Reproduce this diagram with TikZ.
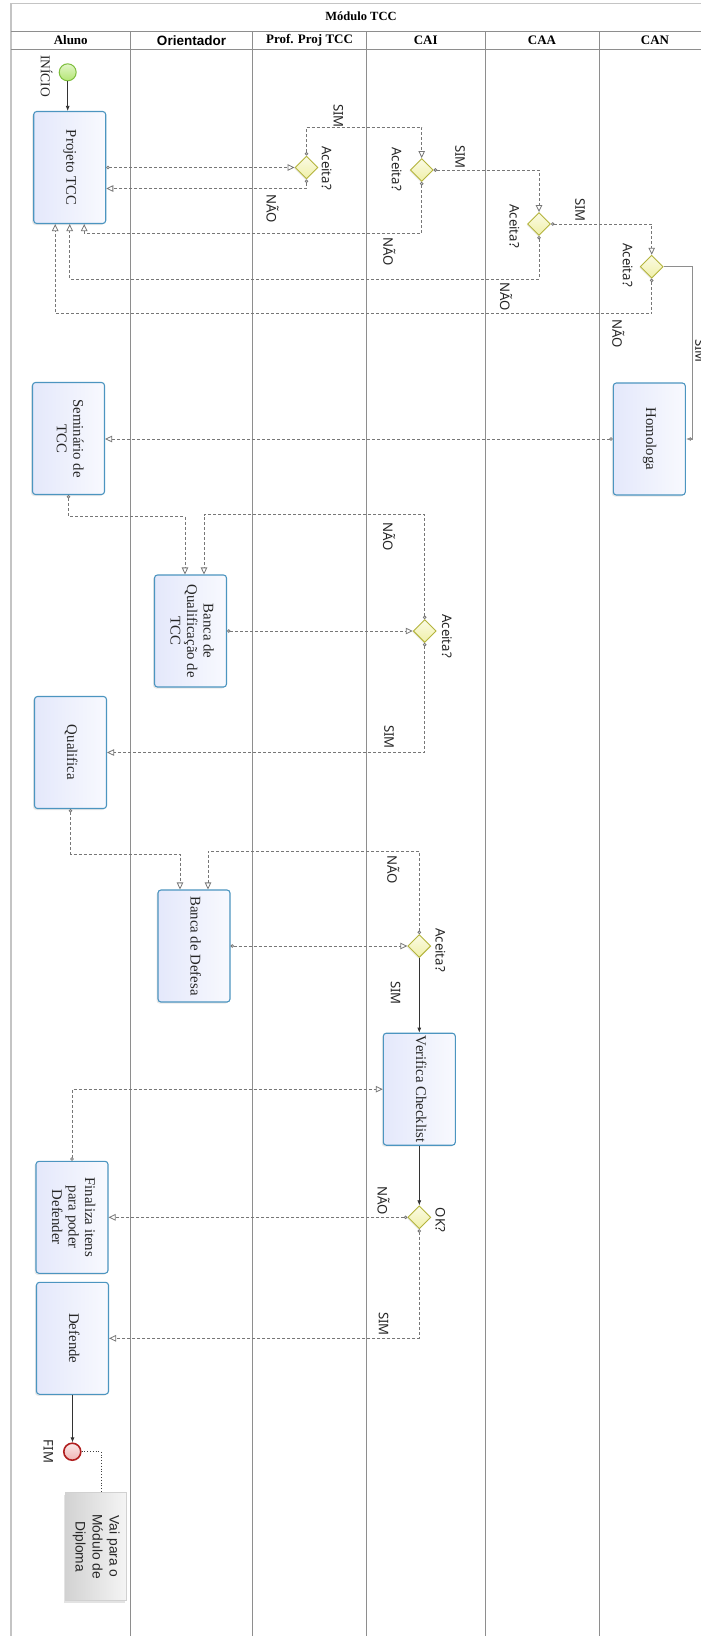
\documentclass[tikz,border=0pt]{standalone}
\usepackage{xcolor}
\usepackage{graphicx}
\usepackage{fontspec}
\setmainfont{Liberation Serif}
\newfontfamily\bpmnsans{Noto Sans}
\newfontfamily\notesans{Liberation Sans}
\usepackage{tikz}
\usetikzlibrary{arrows.meta,shapes.geometric,shadows}
\definecolor{linharaia}{HTML}{8E8E8E}
\definecolor{bordaexterna}{HTML}{C4C4C4}
\definecolor{bordatarefa}{HTML}{4C95C0}
\definecolor{fundotarefa}{HTML}{E4E8FB}
\definecolor{bordadecisao}{HTML}{B4B43C}
\definecolor{fundodecisao}{HTML}{F0F0A8}
\definecolor{bordainicio}{HTML}{7DBE3C}
\definecolor{fundoinicio}{HTML}{B4E674}
\definecolor{bordafim}{HTML}{B01E1E}
\definecolor{fundofim}{HTML}{F0B4B4}
\definecolor{linhamsg}{HTML}{777777}
\definecolor{fundonota}{HTML}{D2D2D2}
\newcommand{\vtxt}[1]{\rotatebox{-90}{\begin{tabular}{@{}c@{}}#1\end{tabular}}}

\begin{document}
\begin{tikzpicture}[x=1pt,y=-1pt,
  raia/.style={draw=linharaia, line width=0.8pt},
  cabecalho/.style={font=\bfseries\fontsize{13}{15}\selectfont},
  tarefa/.style={draw=bordatarefa, line width=1.1pt, rounded corners=3pt,
    left color=fundotarefa, right color=white!75!fundotarefa,
    minimum width=72pt, minimum height=112pt, inner sep=0pt,
    font=\fontsize{14.8}{16.5}\selectfont, text=black!85,
    drop shadow={shadow xshift=-1.5pt, shadow yshift=-1.5pt, opacity=0.18}},
  decisao/.style={diamond, draw=bordadecisao, line width=0.9pt,
    top color=white!70!fundodecisao, bottom color=fundodecisao,
    minimum width=23pt, minimum height=23pt, inner sep=0pt,
    drop shadow={shadow xshift=-1pt, shadow yshift=-1pt, opacity=0.15}},
  inicio/.style={circle, draw=bordainicio, line width=1pt,
    top color=white!60!fundoinicio, bottom color=fundoinicio,
    minimum size=17pt, inner sep=0pt},
  fim/.style={circle, draw=bordafim, line width=1.6pt,
    top color=white!70!fundofim, bottom color=fundofim,
    minimum size=17pt, inner sep=0pt},
  nota/.style={draw=black!18, line width=0.6pt,
    left color=fundonota, right color=black!4,
    minimum width=61pt, minimum height=108pt, inner sep=0pt,
    font=\notesans\fontsize{13.8}{17}\selectfont, text=black!85,
    drop shadow={shadow xshift=-2pt, shadow yshift=-2pt, opacity=0.22}},
  rotulo/.style={rotate=-90, inner sep=0pt, text=black!85,
    font=\bpmnsans\fontsize{13.2}{15}\selectfont},
  mensagem/.style={draw=linhamsg, line width=0.8pt, dash pattern=on 3pt off 2pt,
    {Circle[fill=white,length=3.5pt,width=3.5pt]}-{Triangle[open,length=7pt,width=6.5pt]}},
  fluxo/.style={draw=black!80, line width=0.7pt, -{Latex[length=5pt,width=4pt]}},
  anotacao/.style={draw=black!75, line width=0.8pt, dotted}]

\useasboundingbox[fill=white] (0,0) rectangle (701,1636);

\draw[draw=bordaexterna, line width=1.5pt] (11,3.5) rectangle (711,1660);
\draw[raia] (11,31.7) -- (711,31.7);
\draw[raia] (11,49.3) -- (711,49.3);
\foreach \x in {130.5,252.5,366.5,485,599}
  \draw[raia] (\x,31.7) -- (\x,1640);

\node[cabecalho, font=\bfseries\fontsize{12.5}{15}\selectfont] (titulo) at (361,16.5) {Módulo TCC};
\node[cabecalho] (hAluno) at (70.75,40.5) {Aluno};
\node[cabecalho, font=\notesans\bfseries\fontsize{13.5}{15}\selectfont] (hOrientador) at (191.5,40.5) {Orientador};
\node[cabecalho] (hProf) at (309.5,40.5) {Prof. Proj TCC};
\node[cabecalho] (hCAI) at (425.75,40.5) {CAI};
\node[cabecalho] (hCAA) at (542,40.5) {CAA};
\node[cabecalho] (hCAN) at (655,40.5) {CAN};

\node[inicio] (inicio) at (67.7,72.3) {};
\node[rotulo, font=\fontsize{13.5}{15}\selectfont] (lInicio) at (46.7,76) {INÍCIO};

\node[tarefa] (projeto) at (69.7,167.5) {\vtxt{Projeto TCC}};
\node[tarefa] (seminario) at (68.5,438.5) {\vtxt{Seminário de\\TCC}};
\node[tarefa] (qualifica) at (70.5,752.5) {\vtxt{Qualifica}};
\node[tarefa] (finaliza) at (72,1217.3) {\vtxt{Finaliza itens\\para poder\\Defender}};
\node[tarefa] (defende) at (72.5,1338.3) {\vtxt{Defende}};
\node[tarefa] (bancaQ) at (190.5,631) {\vtxt{Banca de\\Qualificação de\\TCC}};
\node[tarefa] (bancaD) at (194,946) {\vtxt{Banca de Defesa}};
\node[tarefa] (verifica) at (419.3,1089.2) {\vtxt{Verifica Checklist}};
\node[tarefa] (homologa) at (649.3,439) {\vtxt{Homologa}};

\node[decisao] (aceitaProf) at (306.5,167.5) {};
\node[decisao] (aceitaCAI) at (421.7,170) {};
\node[decisao] (aceitaCAA) at (539,224) {};
\node[decisao] (aceitaCAN) at (651.7,266.7) {};
\node[decisao] (aceitaQualif) at (424.7,631) {};
\node[decisao] (aceitaDefesa) at (419.3,946) {};
\node[decisao] (okCheck) at (419.3,1217.3) {};

\node[fim] (fim) at (72.3,1451.7) {};
\node[rotulo] (lFim) at (48.3,1451.5) {FIM};
\node[nota] (nota) at (96.1,1546.7) {\vtxt{Vai para o\\Módulo de\\Diploma}};

\node[rotulo] (lAceitaProf) at (326.7,168) {Aceita?};
\node[rotulo] (lSimProf) at (338.3,116) {SIM};
\node[rotulo] (lNaoProf) at (272.7,209) {NÃO};
\node[rotulo] (lAceitaCAI) at (396.7,169) {Aceita?};
\node[rotulo] (lSimCAI) at (460,157) {SIM};
\node[rotulo] (lNaoCAI) at (389.3,252) {NÃO};
\node[rotulo] (lAceitaCAA) at (514.3,226) {Aceita?};
\node[rotulo] (lSimCAA) at (580,210) {SIM};
\node[rotulo] (lNaoCAA) at (506,297) {NÃO};
\node[rotulo] (lAceitaCAN) at (627.7,265) {Aceita?};
\node[rotulo] (lNaoCAN) at (618.3,334) {NÃO};
\node[rotulo] (lSimCAN) at (700,351) {SIM};
\node[rotulo] (lAceitaQualif) at (447,636) {Aceita?};
\node[rotulo] (lNaoQualif) at (389,537) {NÃO};
\node[rotulo] (lSimQualif) at (389,737) {SIM};
\node[rotulo] (lAceitaDefesa) at (440.3,950) {Aceita?};
\node[rotulo] (lNaoDefesa) at (393.4,870) {NÃO};
\node[rotulo] (lSimDefesa) at (395.6,993) {SIM};
\node[rotulo] (lOk) at (440.3,1220) {OK?};
\node[rotulo] (lNaoOk) at (383.5,1201) {NÃO};
\node[rotulo] (lSimOk) at (383.5,1324) {SIM};

\draw[fluxo] (inicio.south) -- (inicio.south |- projeto.north);
\draw[mensagem] (projeto.east) -- (aceitaProf.west);
\draw[mensagem] (aceitaProf.south) |- ([yshift=-21pt]projeto.east);
\draw[mensagem] (aceitaProf.north) -- ++(0,-28) -| (aceitaCAI.north);
\draw[mensagem] (aceitaCAI.east) -| (aceitaCAA.north);
\draw[mensagem] (aceitaCAI.south) -- ++(0,51.5) -| ([xshift=14.5pt]projeto.south);
\draw[mensagem] (aceitaCAA.east) -| (aceitaCAN.north);
\draw[mensagem] (aceitaCAA.south) -- ++(0,43) -| (projeto.south);
\draw[mensagem] (aceitaCAN.south) -- ++(0,35) -| ([xshift=-14.5pt]projeto.south);
\draw[fluxo, draw=linharaia, line width=1.2pt] (aceitaCAN.east) -- ++(28.5,0) |- (homologa.east);
\draw[mensagem] (homologa.west) -- (homologa.west -| seminario.east);
\draw[mensagem] (seminario.south) -- ++(0,21.5) -| ([xshift=-5.5pt]bancaQ.north);
\draw[mensagem] (bancaQ.east) -- (aceitaQualif.west);
\draw[mensagem] (aceitaQualif.north) -- ++(0,-104.5) -| ([xshift=13.5pt]bancaQ.north);
\draw[mensagem] (aceitaQualif.south) |- (qualifica.east);
\draw[mensagem] (qualifica.south) -- ++(0,45) -| ([xshift=-14pt]bancaD.north);
\draw[mensagem] (bancaD.east) -- (aceitaDefesa.west);
\draw[mensagem] (aceitaDefesa.north) -- ++(0,-83) -| ([xshift=14pt]bancaD.north);
\draw[fluxo] (aceitaDefesa.south) -- (verifica.north);
\draw[fluxo] (verifica.south) -- (okCheck.north);
\draw[mensagem] (okCheck.west) -- (finaliza.east);
\draw[mensagem] (finaliza.north) |- (verifica.west);
\draw[mensagem] (okCheck.south) |- (defende.east);
\draw[fluxo] (defende.south) -- (defende.south |- fim.north);
\draw[anotacao] (fim.east) -| ([xshift=5pt]nota.north);
\end{tikzpicture}
\end{document}
